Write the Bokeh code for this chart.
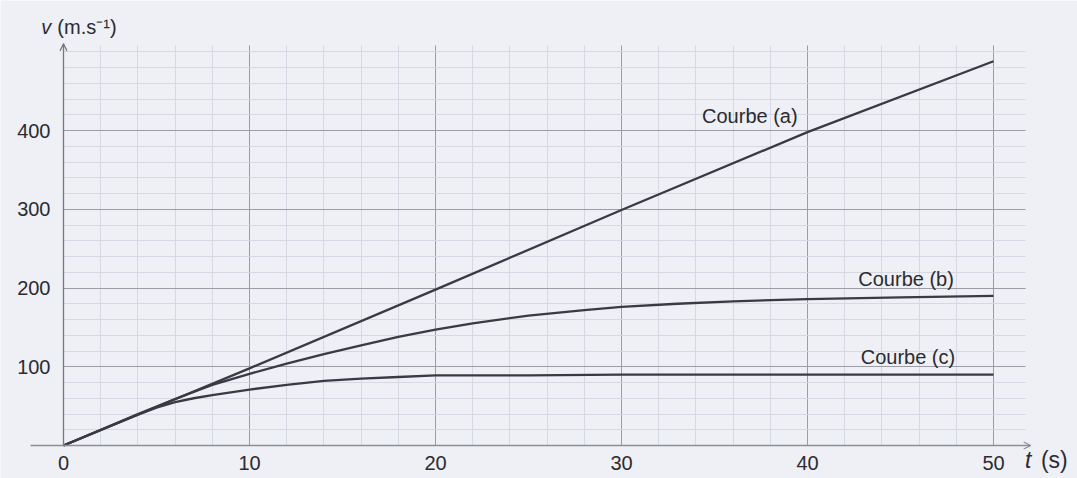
from bokeh.plotting import figure
from bokeh.models import Label, Arrow, OpenHead, FixedTicker, LinearAxis, Grid
from bokeh.embed import file_html
from bokeh.resources import INLINE

# ---- data ----
t_a = [0, 10, 20, 30, 40, 50]
v_a = [0, 98, 198, 299, 398, 488]

t_b = [0, 4, 6, 8, 10, 12, 14, 16, 18, 20, 22, 25, 28, 30, 33, 36, 40, 45, 50]
v_b = [0, 40, 59, 77, 91, 104, 116, 127, 138, 147, 155, 165, 172, 176, 180, 183, 186, 188, 190]

t_c = [0, 4, 5, 6, 7, 8, 10, 12, 14, 16, 18, 20, 25, 30, 40, 50]
v_c = [0, 39, 48, 55, 60, 64, 71, 77, 82, 85, 87, 89, 89, 90, 90, 90]

x_ticks = [0, 10, 20, 30, 40, 50]
x_minor = list(range(0, 52, 2))
y_ticks = [100, 200, 300, 400]
y_minor = list(range(0, 510, 20))

curve_names = ["Courbe (a)", "Courbe (b)", "Courbe (c)"]
curve_label_pos = [(36.9, 419), (45.3, 212), (45.4, 112)]

FONT = "Liberation Sans"
FS = "20px"
INK = "#2b2b30"
CURVE = "#3a3b42"
BG = "#eef0f5"

W, H = 1077, 478
PX_X, PX_Y = 18.6, 0.7875   # pixels per data unit
X0, Y0 = 63, 445            # pixel position of the origin

p = figure(width=W, height=H,
           x_range=(-X0 / PX_X, (W - X0) / PX_X),
           y_range=(-(H - Y0) / PX_Y, Y0 / PX_Y),
           output_backend="svg", toolbar_location=None,
           x_axis_location=None, y_axis_location=None,
           min_border=0, min_border_left=0, min_border_right=0,
           min_border_top=0, min_border_bottom=0)
p.background_fill_color = BG
p.border_fill_color = BG
p.outline_line_color = None
p.xgrid.visible = False
p.ygrid.visible = False

xtk = FixedTicker(ticks=x_ticks, minor_ticks=x_minor)
ytk = FixedTicker(ticks=y_ticks, minor_ticks=y_minor)

xax = LinearAxis(ticker=xtk, fixed_location=0, bounds=(-1.77, 52.0))
yax = LinearAxis(ticker=ytk, fixed_location=0, bounds=(0, 510))
for ax in (xax, yax):
    ax.major_tick_out = 0
    ax.major_tick_in = 0
    ax.minor_tick_out = 0
    ax.minor_tick_in = 0
    ax.major_label_text_font = FONT
    ax.major_label_text_font_size = FS
    ax.major_label_text_color = INK
xax.axis_line_color = "#8c8e96"
xax.axis_line_width = 1.3
yax.axis_line_color = "#77787f"
yax.axis_line_width = 1.3
xax.major_label_standoff = 10
yax.major_label_standoff = 13
p.add_layout(xax, "below")
p.add_layout(yax, "left")

gx = Grid(dimension=0, ticker=FixedTicker(ticks=x_ticks[1:], minor_ticks=x_minor), cross_bounds=(0, 508))
gy = Grid(dimension=1, ticker=FixedTicker(ticks=y_ticks, minor_ticks=y_minor), cross_bounds=(0, 51.7))
for g in (gx, gy):
    g.grid_line_color = "#9a9ca6"
    g.grid_line_width = 1
    g.minor_grid_line_color = "#d6d9e3"
    g.minor_grid_line_width = 1
    g.level = "underlay"
    p.add_layout(g)

# curves
p.line(t_a, v_a, line_color=CURVE, line_width=2.3)
p.line(t_b, v_b, line_color=CURVE, line_width=2.3)
p.line(t_c, v_c, line_color=CURVE, line_width=2.3)

for name, (lx, ly) in zip(curve_names, curve_label_pos):
    p.add_layout(Label(x=lx, y=ly, text=name, text_align="center", text_baseline="middle",
                       text_font=FONT, text_font_size=FS, text_color=INK))

# axis arrows
p.add_layout(Arrow(end=OpenHead(size=7, line_color="#77787f", line_width=1.2),
                   x_start=0, y_start=480, x_end=0, y_end=510, line_alpha=0))
p.add_layout(Arrow(end=OpenHead(size=7, line_color="#8c8e96", line_width=1.2),
                   x_start=50, y_start=0, x_end=52.0, y_end=0, line_alpha=0))

# axis titles
p.add_layout(Label(x=-1.2, y=530.8, text="v", text_align="left", text_baseline="middle",
                   text_font=FONT, text_font_size=FS, text_font_style="italic", text_color=INK))
p.add_layout(Label(x=-0.33, y=530.8, text="(m.s\u207b\u00b9)", text_align="left", text_baseline="middle",
                   text_font=FONT, text_font_size=FS, text_color=INK))
p.add_layout(Label(x=51.7, y=-19, text="t", text_align="left", text_baseline="middle",
                   text_font=FONT, text_font_size="23px", text_font_style="italic", text_color=INK))
p.add_layout(Label(x=52.55, y=-19, text="(s)", text_align="left", text_baseline="middle",
                   text_font=FONT, text_font_size="23px", text_color=INK))

open("out.html", "w").write(file_html(p, INLINE))
